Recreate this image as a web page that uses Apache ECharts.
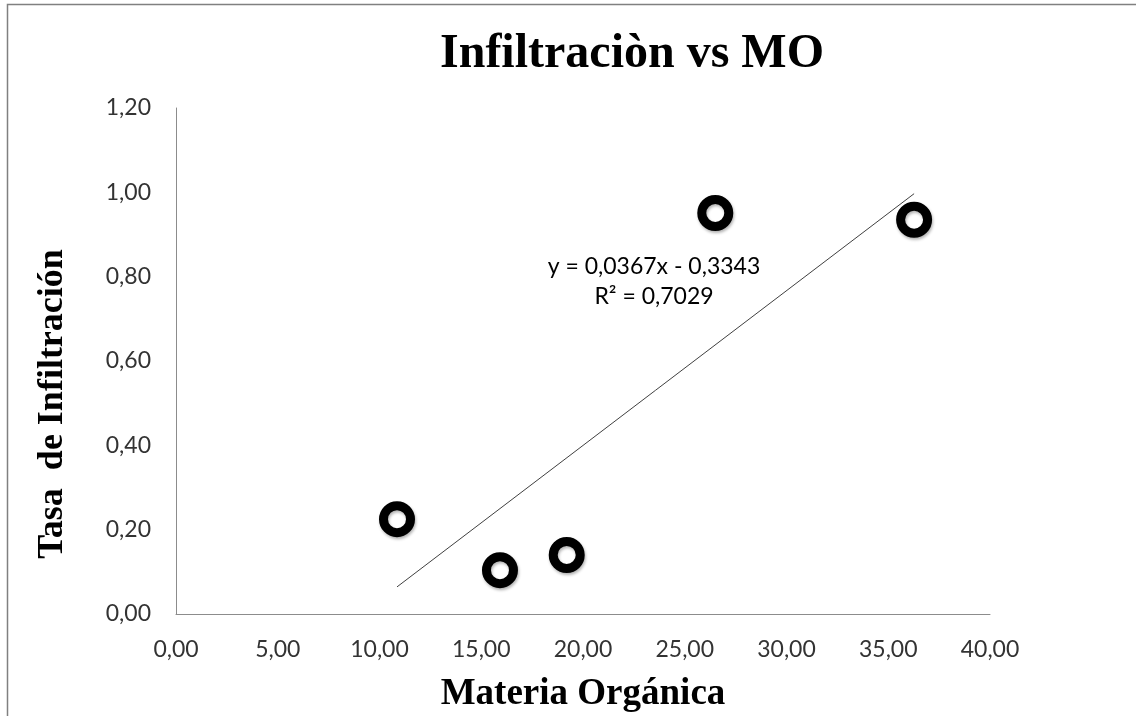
<!DOCTYPE html>
<html>
<head>
<meta charset="utf-8">
<script src="https://cdn.jsdelivr.net/npm/echarts@6/dist/echarts.min.js"></script>
<style>
  html, body { margin: 0; padding: 0; background: #fff; }
  #chart { width: 1136px; height: 716px; }
</style>
</head>
<body>
<div id="chart"></div>
<script>
// datos
const materiaOrganica = [10.86, 15.92, 19.2, 26.5, 36.27];
const tasaInfiltracion = [0.225, 0.104, 0.14, 0.951, 0.935];
const pendiente = 0.0367;
const intercepto = -0.3343;
const ecuacion = ['y = 0,0367x - 0,3343', 'R² = 0,7029'];

const chart = echarts.init(document.getElementById('chart'));

const puntos = materiaOrganica.map((x, i) => [x, tasaInfiltracion[i]]);
const xMin = Math.min(...materiaOrganica);
const xMax = Math.max(...materiaOrganica);
const tendencia = [xMin, xMax].map(x => [x, pendiente * x + intercepto]);

const fmt = v => v.toFixed(2).replace('.', ',');

chart.setOption({
    backgroundColor: '#fff',
    animation: false,
    grid: { left: 176, right: 146, top: 108, bottom: 102, containLabel: false, outerBoundsMode: 'none' },
    xAxis: {
        type: 'value',
        min: 0, max: 40, interval: 5,
        name: 'Materia Orgánica',
        nameLocation: 'middle',
        nameGap: 62,
        nameTextStyle: { fontFamily: 'Liberation Serif', fontWeight: 'bold', fontSize: 37, color: '#000' },
        axisLine: { lineStyle: { color: '#8c8c8c', width: 1 } },
        axisTick: { show: false },
        splitLine: { show: false },
        axisLabel: { formatter: fmt, margin: 24, fontFamily: 'Lato', fontSize: 23, color: '#333' }
    },
    yAxis: {
        type: 'value',
        min: 0, max: 1.2, interval: 0.2,
        axisLine: { show: true, lineStyle: { color: '#8c8c8c', width: 1 } },
        axisTick: { show: false },
        splitLine: { show: false },
        axisLabel: { formatter: fmt, margin: 25, fontFamily: 'Lato', fontSize: 23, color: '#333' }
    },
    graphic: [
        {
            type: 'rect',
            shape: { x: 7.5, y: 4.5, width: 1140, height: 720 },
            style: { fill: 'none', stroke: '#808080', lineWidth: 1.5 },
            silent: true
        },
        {
            type: 'text',
            x: 632, y: 55,
            style: {
                text: 'Infiltraciòn vs MO',
                align: 'center', verticalAlign: 'middle',
                fontFamily: 'Liberation Serif', fontWeight: 'bold', fontSize: 48, fill: '#000'
            }
        },
        {
            type: 'text',
            x: 53, y: 404,
            rotation: Math.PI / 2,
            style: {
                text: 'Tasa  de Infiltración',
                align: 'center', verticalAlign: 'middle',
                fontFamily: 'Liberation Serif', fontWeight: 'bold', fontSize: 36, fill: '#000'
            }
        },
        {
            type: 'text',
            x: 654, y: 282,
            style: {
                text: ecuacion.join('\n'),
                align: 'center', verticalAlign: 'middle',
                fontFamily: 'Lato', fontSize: 23, lineHeight: 30, fill: '#000'
            }
        }
    ],
    series: [
        {
            type: 'line',
            data: tendencia,
            symbol: 'none',
            lineStyle: { color: '#404040', width: 1 },
            z: 1
        },
        {
            type: 'scatter',
            data: puntos,
            symbol: 'circle',
            symbolSize: 27,
            itemStyle: {
                color: '#fff',
                opacity: 1,
                borderColor: '#000',
                borderWidth: 9,
                shadowBlur: 3,
                shadowOffsetX: 1,
                shadowOffsetY: 2,
                shadowColor: 'rgba(0,0,0,0.3)'
            },
            z: 3
        }
    ]
});
</script>
</body>
</html>
